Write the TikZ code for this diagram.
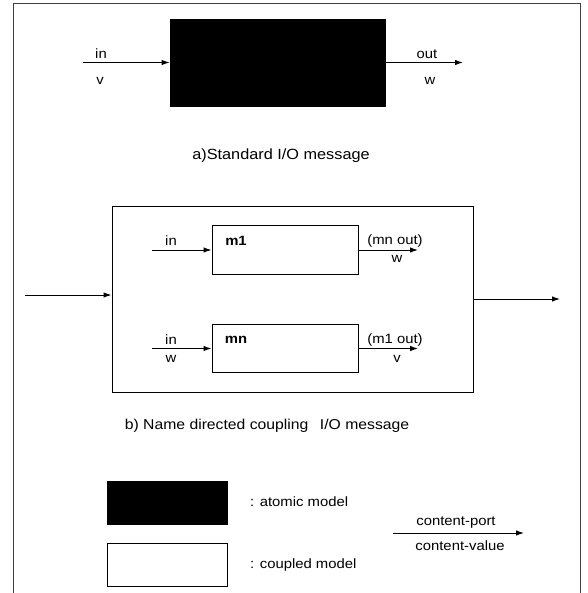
\documentclass[tikz,border=0pt]{standalone}
\usepackage{fontspec}
\setmainfont{Liberation Sans}[FakeStretch=1.1]
\usetikzlibrary{arrows.meta}
\begin{document}
\begin{tikzpicture}[x=1pt,y=-1pt,
  lbl/.style={font=\fontsize{13.5}{16}\selectfont, inner sep=0pt, anchor=center},
  captxt/.style={font=\fontsize{14.3}{16}\selectfont, inner sep=0pt, anchor=center},
  bl/.style={font=\fontsize{13.5}{16}\selectfont\bfseries, inner sep=0pt, anchor=center},
  arr/.style={-{Latex[length=8pt,width=5.5pt]}, line width=1pt},
  atomic/.style={draw=black, fill=black, line width=0.8pt, inner sep=0pt},
  coupled/.style={draw=black, fill=white, line width=1pt, inner sep=0pt},
  framest/.style={draw=black!75, line width=0.7pt}
]
\useasboundingbox (0,0) rectangle (587,593);
\draw[framest] (13,593) -- (13,3) -- (580,3) -- (580,593);

% a) standard
\node[atomic, minimum width=215pt, minimum height=87pt] (A) at (277.5,62.5) {};
\coordinate (ain) at (83,62.5);
\coordinate (aout) at (463,62.5);
\draw[arr] (ain) -- (A.west);
\draw[arr] (A.east) -- (aout);
\node[lbl] (ainl) at (101,54) {in};
\node[lbl] (ainv) at (100,81) {v};
\node[lbl] (aoutl) at (427,54) {out};
\node[lbl] (aoutw) at (430,81) {w};
\node[captxt, font=\fontsize{14.8}{16}\selectfont] (capa) at (281,156) {a)Standard I/O message};

% b) coupled
\node[coupled, minimum width=361pt, minimum height=185pt] (C) at (292.5,299.5) {};
\node[coupled, minimum width=146pt, minimum height=48pt] (M1) at (285,250) {};
\node[coupled, minimum width=146pt, minimum height=48pt] (MN) at (285,348.5) {};
\coordinate (cin) at (25,295);
\coordinate (cout) at (560,299);
\draw[arr] (cin) -- (cin -| C.west);
\draw[arr] (C.east |- cout) -- (cout);
\coordinate (m1in) at (152,250);
\coordinate (m1out) at (418,250);
\coordinate (mnin) at (152,348.5);
\coordinate (mnout) at (418,348.5);
\draw[arr] (m1in) -- (M1.west);
\draw[arr] (M1.east) -- (m1out);
\draw[arr] (mnin) -- (MN.west);
\draw[arr] (MN.east) -- (mnout);
\node[bl] (m1l) at (236,241) {m1};
\node[bl] (mnl) at (236,340) {mn};
\node[lbl] (m1inl) at (171,241) {in};
\node[lbl] (m1outl) at (395,241) {(mn out)};
\node[lbl] (m1outw) at (397,259) {w};
\node[lbl] (mninl) at (171,340) {in};
\node[lbl] (mninw) at (171,359) {w};
\node[lbl] (mnoutl) at (395,340) {(m1 out)};
\node[lbl] (mnoutv) at (397,359) {v};
\node[captxt] (capb) at (267,426) {b) Name directed coupling\hspace{0.5em} I/O message};

% legend
\node[atomic, minimum width=120pt, minimum height=43pt] (LA) at (167,502.5) {};
\node[coupled, minimum width=120pt, minimum height=43pt] (LC) at (167.5,564.5) {};
\node[lbl, anchor=west] (LAt) at (250,502) {: atomic model};
\node[lbl, anchor=west] (LCt) at (250,565) {: coupled model};
\coordinate (lgs) at (393,533);
\coordinate (lge) at (524,533);
\draw[arr] (lgs) -- (lge);
\node[lbl] (lgp) at (456,523) {content-port};
\node[lbl] (lgv) at (460,546) {content-value};
\end{tikzpicture}
\end{document}
